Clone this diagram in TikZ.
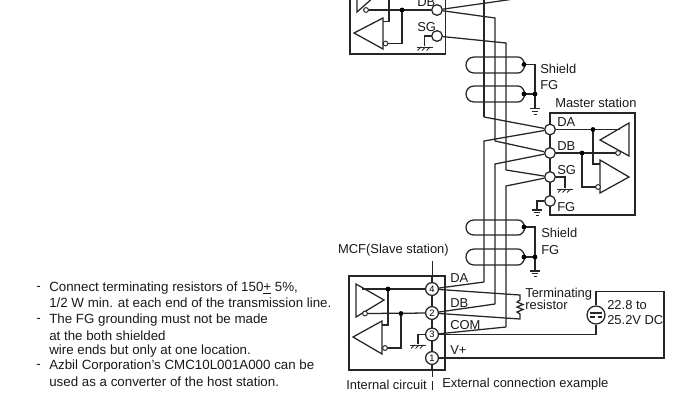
\documentclass[tikz,border=0pt]{standalone}
\usepackage{fontspec}
\setmainfont{Liberation Sans}
\tikzset{
 wire/.style={draw=black!85,line width=0.95pt},
 term/.style={circle,draw=black!85,line width=0.95pt,fill=white,minimum size=8pt,inner sep=0pt},
 numterm/.style={circle,draw=black!85,line width=0.95pt,fill=white,minimum size=9.6pt,inner sep=0pt,font=\fontsize{7}{7}\selectfont},
 dotj/.style={circle,fill=black,minimum size=3.6pt,inner sep=0pt},
 bub/.style={circle,draw=black!85,line width=0.75pt,fill=white,minimum size=3.6pt,inner sep=0pt},
 lbl/.style={anchor=west,inner sep=0pt,font=\fontsize{9.7}{11}\selectfont,text=black!90},
 note/.style={anchor=west,inner sep=0pt,font=\fontsize{10}{11}\selectfont,text=black!90},
}
\newcommand{\gndhatch}[1]{\draw[wire,line width=0.75pt] ($(#1)+(-8,0)$) -- ($(#1)+(8,0)$);
 \foreach \k in {-7,-2.5,2} {\draw[wire,line width=0.75pt] ($(#1)+(\k,3.5)$) -- ($(#1)+(\k+3.5,0)$);}}
\newcommand{\gndearth}[1]{\draw[wire,line width=0.8pt] ($(#1)+(-5,0)$) -- ($(#1)+(5,0)$);
 \draw[wire,line width=0.8pt] ($(#1)+(-3.2,2.8)$) -- ($(#1)+(3.2,2.8)$);
 \draw[wire,line width=0.8pt] ($(#1)+(-1.5,5.6)$) -- ($(#1)+(1.5,5.6)$);}
\newcommand{\lobe}[4]{% left x, right x, top y, bottom y
 \draw[wire] (#1+8,#3) -- (#2-7,#3) .. controls (#2-3,#3) and (#2-1,{(#3+#4)/2-4}) .. (#2,{(#3+#4)/2})
 .. controls (#2-1,{(#3+#4)/2+4}) and (#2-3,#4) .. (#2-7,#4) -- (#1+8,#4)
 .. controls (#1+3,#4) and (#1,{(#3+#4)/2+4}) .. (#1,{(#3+#4)/2})
 .. controls (#1,{(#3+#4)/2-4}) and (#1+3,#3) .. (#1+8,#3) -- cycle;}
\usetikzlibrary{calc}
\begin{document}
\begin{tikzpicture}[x=0.75pt,y=-0.75pt]
\useasboundingbox (0,0) rectangle (695,396);
\clip (0,0) rectangle (695,396);
% top slave box
\draw[wire] (350,-4) -- (350,54) -- (445.5,54) -- (445.5,-4);
\draw[wire] (357,-4) -- (357,12) -- (375,-4);
\draw[wire] (354,33) -- (383,18) -- (383,49) -- cycle;
\draw[wire] (389,-4) -- (389,21.5) -- (383,21.5);
\coordinate (c1) at (366,10); \coordinate (c2) at (402,10);
\node[term] (tDB) at (437,10) {};
\node[term] (tSG) at (437,36) {};
\draw[wire] (c1) -- (tDB);
\draw[wire] (385,43.5) -- (402,43.5) -- (c2);
\node[dotj] at (c2) {};
\node[bub] at (366,10) {};
\node[bub] at (385.5,43.5) {};
\draw[wire] (tSG) -- (424.5,36) -- (424.5,46);
\coordinate (g1) at (424.5,47); \gndhatch{g1}
\node[lbl] at (417,2) {DB};
\node[lbl] at (417,27) {SG};
% wires through the shields
\draw[wire] (tDB) -- (514,-1);
\draw[wire] (484,-4) -- (484,117);
\draw[wire] (tDB) -- (495,18) -- (495,141);
\draw[wire] (tSG) -- (506,43) -- (506,170);
% shields
\lobe{466}{525}{57}{73}
\lobe{466}{525}{86}{102}
\coordinate (s1) at (524,64.5); \coordinate (s2) at (524,94); \coordinate (s3) at (535,94);
\draw[wire] (s1) -- (535,64.5) -- (535,108);
\draw[wire] (s2) -- (s3);
\node[dotj] at (s1) {}; \node[dotj] at (s2) {}; \node[dotj] at (s3) {};
\coordinate (e1) at (535,108.5); \gndearth{e1}
\node[lbl] at (540,68.5) {Shield};
\node[lbl] at (540,85) {FG};
\node[lbl] at (555,103) {Master station};
% master box
\draw[wire] (550,113) rectangle (635,215);
\node[term] (mDA) at (550,129.5) {};
\node[term] (mDB) at (550,153) {};
\node[term] (mSG) at (550,177) {};
\node[term] (mFG) at (550,201) {};
\draw[wire] (484,117) -- (mDA);
\draw[wire] (495,141) -- (mDB);
\draw[wire] (506,170) -- (mSG);
\draw[wire] (mDA) -- (484,141) -- (484,282);
\draw[wire] (mDB) -- (495,164) -- (495,304);
\draw[wire] (mSG) -- (506,186) -- (506,327);
\draw[wire] (600,140) -- (629,123) -- (629,156) -- cycle;
\draw[wire] (600,160) -- (629,177) -- (600,193) -- cycle;
\draw[wire] (mDA) -- (620,129.5);
\draw[wire] (mDB) -- (618,153);
\draw[wire] (593,129.5) -- (593,164) -- (600,164);
\draw[wire] (582,153) -- (582,187) -- (598,187);
\node[dotj] at (593,129.5) {};
\node[dotj] at (582,153) {};
\node[bub] at (618,153) {};
\node[bub] at (598,187) {};
\draw[wire] (mSG) -- (565,177) -- (565,188);
\coordinate (g2) at (565,189); \gndhatch{g2}
\draw[wire] (mFG) -- (537,201) -- (537,209);
\coordinate (e2) at (537,210); \gndearth{e2}
\node[lbl] at (557,122) {DA};
\node[lbl] at (557,146) {DB};
\node[lbl] at (557,170) {SG};
\node[lbl] at (557,207) {FG};
% lower shields
\lobe{466}{525}{220}{235}
\lobe{466}{525}{249}{265}
\coordinate (s4) at (524,227); \coordinate (s5) at (524,257); \coordinate (s6) at (535,257);
\draw[wire] (s4) -- (535,227) -- (535,270);
\draw[wire] (s5) -- (s6);
\node[dotj] at (s4) {}; \node[dotj] at (s5) {}; \node[dotj] at (s6) {};
\coordinate (e3) at (535,271); \gndearth{e3}
\node[lbl] at (541,233) {Shield};
\node[lbl] at (541,250) {FG};
\node[lbl,anchor=east] at (449,250) {MCF(Slave station)};
% slave MCF
\draw[wire,line width=0.7pt] (432,261) -- (432,275);
\draw[wire,line width=0.7pt] (432,370) -- (432,377);
\draw[wire,line width=0.7pt] (432,381) -- (432,390);
\draw[wire] (349,276) rectangle (445,370);
\draw[wire] (432,276) -- (432,370);
\node[numterm] (p4) at (432,289) {4};
\node[numterm] (p2) at (432,313) {2};
\node[numterm] (p3) at (432,334.5) {3};
\node[numterm] (p1) at (432,358) {1};
\draw[wire] (356,284) -- (384,300) -- (356,317) -- cycle;
\draw[wire] (353,337) -- (382,321) -- (382,354) -- cycle;
\draw[wire] (362,289) -- (p4);
\draw[wire] (365,313.5) -- (p2);
\draw[wire] (388,289) -- (388,325) -- (382,325);
\draw[wire] (385,348) -- (401,348) -- (401,313.5);
\node[dotj] at (388,289) {};
\node[dotj] at (401,313.5) {};
\node[bub] at (365,313.5) {};
\node[bub] at (385,348) {};
\draw[wire] (p3) -- (418,334.5) -- (418,344);
\coordinate (g3) at (418,345); \gndhatch{g3}
\node[lbl] at (450,278) {DA};
\node[lbl] at (450,303) {DB};
\node[lbl] at (450,325) {COM};
\node[lbl] at (450,350) {V+};
% outgoing wires
\draw[wire] (p4) -- (484,282);
\draw[wire] (p2) -- (495,304);
\draw[wire] (p3) -- (506,327);
\coordinate (r1) at (520,295); \coordinate (r2) at (520,319);
\draw[wire] (p4) -- (r1) -- (520,300) -- (517,302) -- (523,304.5) -- (517,307) -- (523,309.5) -- (517,312) -- (520,314) -- (r2) -- (p2);
% supply
\node[circle,draw=black!85,line width=0.95pt,minimum size=13.5pt,inner sep=0pt] (ps) at (596,315) {};
\draw[wire] (p3) -- (596,334.5) -- (ps);
\draw[wire] (ps) -- (596,291.5) -- (664,291.5) -- (664,358) -- (p1);
\draw[wire] (590,313) -- (602,313);
\draw[wire] (590,317) -- (594.5,317) (597.5,317) -- (602,317);
\node[lbl] at (525,294) {Terminating};
\node[lbl] at (525,305) {resistor};
\node[lbl] at (607,305) {22.8 to};
\node[lbl] at (607,320) {25.2V DC};
\node[lbl] at (346,385) {Internal circuit};
\node[lbl] at (442,384) {External connection example};
% notes
\node[note] at (36,288) {-};
\node[note] at (49,288) {Connect terminating resistors of 150\underline{+} 5\%,};
\node[note] at (49,303) {1/2 W min. at each end of the transmission line.};
\node[note] at (36,320) {-};
\node[note] at (49,320) {The FG grounding must not be made};
\node[note] at (49,336) {at the both shielded};
\node[note] at (49,351) {wire ends but only at one location.};
\node[note] at (36,366) {-};
\node[note] at (49,366) {Azbil Corporation's CMC10L001A000 can be};
\node[note] at (49,382) {used as a converter of the host station.};
\end{tikzpicture}
\end{document}
